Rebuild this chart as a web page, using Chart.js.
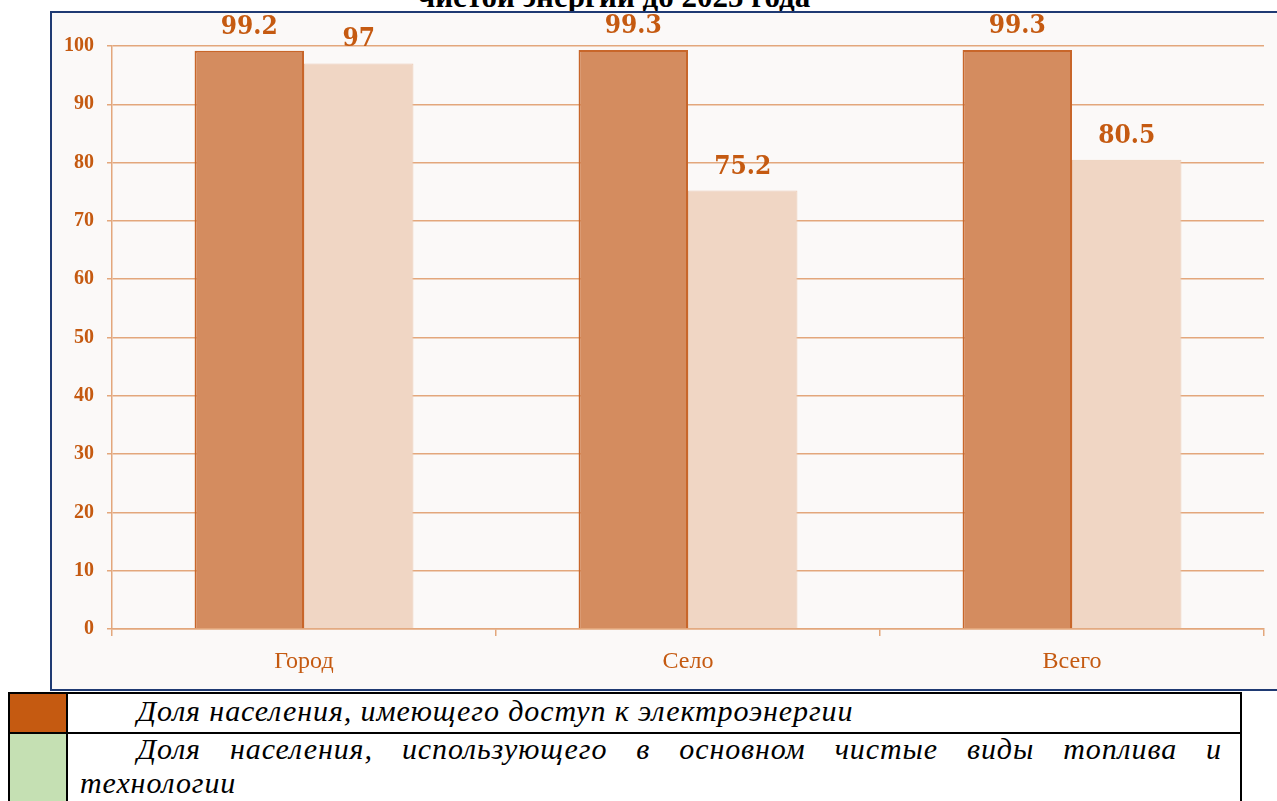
<!DOCTYPE html>
<html lang="ru">
<head>
<meta charset="utf-8">
<script src="https://cdn.jsdelivr.net/npm/chart.js@4.4.1/dist/chart.umd.min.js"></script>
<style>
  body { margin: 0; background: #fff; width: 1277px; height: 801px; overflow: hidden; position: relative; }
  #title { position: absolute; left: 0; width: 1228px; top: -19px; text-align: center;
    font: bold 31px/32px "Liberation Serif", serif; color: #000; white-space: nowrap; }
  #frame { position: absolute; left: 50px; top: 11px; width: 1260px; height: 676px;
    border: 2px solid #1f3a73; background: #fbf9f8; }
  #frame canvas { position: absolute; left: 0; top: 0; }
  #legend { position: absolute; left: 8px; top: 692px; width: 1234px; border-collapse: collapse;
    font: italic 30px/29px "Liberation Serif", serif; color: #000; letter-spacing: 0.9px; }
  #legend td { border: 2px solid #000; padding: 0 18px 0 12px; vertical-align: top; }
  #legend td.sw { width: 56px; padding: 0; }
  #legend p { margin: 0; }
  #legend p.first { text-indent: 57px; text-align: justify; text-align-last: justify; line-height: 30px; margin-top: 0; }
  #legend p.one { text-indent: 57px; padding-top: 2px; }
  #legend p.last { line-height: 30px; margin-top: 4px; padding-bottom: 20px; }
</style>
</head>
<body>
<div id="title">чистой энергии до 2025 года</div>
<div id="frame"><canvas id="chart" width="1225" height="674"></canvas></div>
<table id="legend">
  <tr style="height:40px"><td class="sw" style="background:#c55a11"></td><td><p class="one">Доля населения, имеющего доступ к электроэнергии</p></td></tr>
  <tr><td class="sw" style="background:#c5e0b3"></td><td><p class="first">Доля населения, использующего в основном чистые виды топлива и</p><p class="last">технологии</p></td></tr>
</table>
<script>
const categories = ['Город', 'Село', 'Всего'];
const electricity = [99.2, 99.3, 99.3];
const cleanFuel = [97, 75.2, 80.5];
const yTicks = [0, 10, 20, 30, 40, 50, 60, 70, 80, 90, 100];

const orange = '#c55a11';
const gridColor = '#e3a77c';

const valueLabels = {
  id: 'valueLabels',
  afterDatasetsDraw(chart) {
    const { ctx } = chart;
    ctx.save();
    ctx.font = 'bold 26px "DejaVu Serif Condensed", "DejaVu Serif", serif';
    ctx.fillStyle = orange;
    ctx.textAlign = 'center';
    ctx.textBaseline = 'alphabetic';
    chart.data.datasets.forEach((ds, di) => {
      chart.getDatasetMeta(di).data.forEach((bar, i) => {
        ctx.fillText(String(ds.data[i]), bar.x, bar.y - 17);
      });
    });
    ctx.restore();
  },
};

new Chart(document.getElementById('chart'), {
  type: 'bar',
  data: {
    labels: categories,
    datasets: [
      { label: 'Доля населения, имеющего доступ к электроэнергии', data: electricity,
        backgroundColor: '#d48c5f', borderColor: '#c8662a', borderWidth: 2,
        barPercentage: 1, categoryPercentage: 0.57 },
      { label: 'Доля населения, использующего в основном чистые виды топлива и технологии', data: cleanFuel,
        backgroundColor: '#f0d6c4', borderColor: '#eccab3', borderWidth: 1,
        barPercentage: 1, categoryPercentage: 0.57 },
    ],
  },
  options: {
    responsive: false,
    devicePixelRatio: 1,
    animation: false,
    layout: { padding: { top: 33, right: 13, left: 0, bottom: 0 } },
    plugins: { legend: { display: false }, tooltip: { enabled: false } },
    scales: {
      x: {
        afterFit: (s) => { s.height = 58; },
        border: { color: gridColor, width: 1.5 },
        grid: { drawOnChartArea: false, drawTicks: true, tickLength: 7, color: gridColor, lineWidth: 1.5 },
        ticks: { color: orange, padding: 11, font: { family: '"Liberation Serif", serif', size: 24 } },
      },
      y: {
        min: 0,
        max: 100,
        afterFit: (s) => { s.width = 60; },
        afterBuildTicks: (s) => { s.ticks = yTicks.map((v) => ({ value: v })); },
        border: { color: gridColor, width: 1.5 },
        grid: { color: gridColor, lineWidth: 1.5, tickLength: 5 },
        ticks: { color: orange, padding: 13, font: { family: '"Liberation Serif", serif', size: 20, weight: 'bold' } },
      },
    },
  },
  plugins: [valueLabels],
});
</script>
</body>
</html>
